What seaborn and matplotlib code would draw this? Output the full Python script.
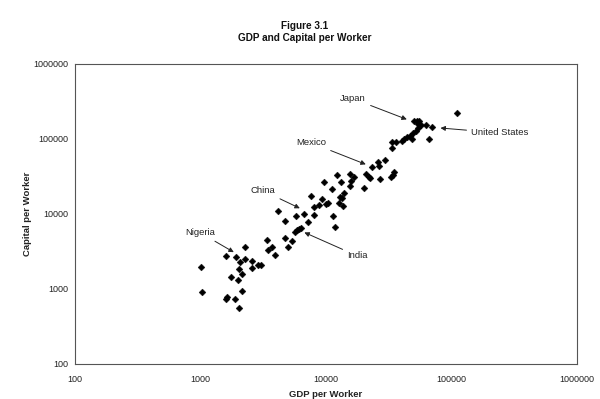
import matplotlib
matplotlib.use("Agg")
import matplotlib.pyplot as plt
import matplotlib.ticker as mticker
import pandas as pd
import seaborn as sns

# GDP per worker and capital per worker, one entry per country
gdp_per_worker = [
    1010, 1030, 1600, 1920, 2260, 2070, 2260, 2570, 2570, 2030,
    2870, 3030, 2140, 1750, 1990, 2140, 1600, 1630, 1880, 2030,
    3390, 3450, 3720, 3930, 4150, 4710, 4710, 5360, 4980, 5770,
    6680, 7190, 5660, 5880, 6100, 6320, 7590, 8020, 8020, 8790,
    9290, 10000, 10370, 9640, 11170, 11370, 11800, 12940, 13400, 12700,
    13650, 13900, 12240, 13180, 15520, 16710, 15810, 15520, 20090, 20840,
    22030, 23280, 25950, 26440, 26920, 29510, 32960, 34200, 34830, 33570,
    36140, 33570, 40360, 41880, 44190, 46700, 49320, 52120, 54080, 48420,
    50230, 53090, 55080, 54080, 57150, 62650, 69980, 66220, 110700, 22440,
]
capital_per_worker = [
    1970, 910, 2750, 2670, 3630, 2290, 2510, 2360, 1910, 1850,
    2090, 2090, 1590, 1450, 1320, 940, 740, 780, 740, 560,
    4500, 3310, 3630, 2840, 10960, 8070, 4790, 4370, 3630, 9400,
    10000, 7820, 5750, 6120, 6310, 6500, 17380, 12390, 9700, 13180,
    15850, 13600, 14030, 26730, 21540, 9400, 6710, 16870, 16330, 14030,
    12790, 19050, 33110, 26730, 34150, 31150, 27540, 23610, 22220, 34150,
    31150, 42340, 49400, 43650, 29290, 52500, 31150, 33110, 36310, 91200,
    91200, 75900, 94000, 100000, 106200, 109600, 120200, 127800, 140200, 100000,
    173800, 173800, 173800, 158500, 153800, 153800, 144500, 100000, 222300, 30200,
]

# Labelled countries: (name, point the arrow marks, label position, alignment)
label_names = ["Japan", "United States", "Mexico", "China", "Nigeria", "India"]
label_points = [(45000, 179000), (79400, 140000), (21200, 45000),
                (6320, 11660), (1880, 3020), (6560, 5750)]
label_text_pos = [(20800, 342000), (143000, 120000), (10000, 88500),
                  (3950, 20300), (1310, 5600), (14700, 2750)]
label_ha = ["right", "left", "right", "right", "right", "left"]

sns.set_theme(style="white")
plt.rcParams["font.family"] = ["Liberation Sans", "DejaVu Sans"]

df = pd.DataFrame({"gdp": gdp_per_worker, "capital": capital_per_worker})

fig = plt.figure(figsize=(6.0, 3.99), dpi=100)
ax = fig.add_axes([0.125, 0.088, 0.837, 0.752])

sns.scatterplot(data=df, x="gdp", y="capital", ax=ax, marker="D",
                s=12, color="black", edgecolor="black", linewidth=0.3,
                legend=False)

ax.set_xscale("log")
ax.set_yscale("log")
ax.set_xlim(100, 1000000)
ax.set_ylim(100, 1000000)

decades = [100, 1000, 10000, 100000, 1000000]
ax.xaxis.set_major_locator(mticker.FixedLocator(decades))
ax.yaxis.set_major_locator(mticker.FixedLocator(decades))
ax.xaxis.set_minor_locator(mticker.NullLocator())
ax.yaxis.set_minor_locator(mticker.NullLocator())
fmt = mticker.FuncFormatter(lambda v, _: f"{int(round(v))}")
ax.xaxis.set_major_formatter(fmt)
ax.yaxis.set_major_formatter(fmt)
ax.tick_params(axis="both", which="major", labelsize=6.5, colors="#222222",
               length=3, width=0.6, direction="out", pad=2)
ax.tick_params(axis="x", length=0, pad=8)

for side in ax.spines.values():
    side.set_color("#555555")
    side.set_linewidth(0.8)

ax.set_xlabel("GDP per Worker", fontsize=6.8, fontweight="bold",
              color="#222222", labelpad=4)
ax.set_ylabel("Capital per Worker", fontsize=6.8, fontweight="bold",
              color="#222222", labelpad=1)

for name, pt, txt, ha in zip(label_names, label_points, label_text_pos, label_ha):
    ax.annotate(name, xy=pt, xytext=txt, fontsize=6.8, color="#222222",
                ha=ha, va="center",
                arrowprops=dict(arrowstyle="-|>", color="#222222", lw=0.7,
                                mutation_scale=7, shrinkA=1, shrinkB=1))

fig.text(0.508, 0.935, "Figure 3.1", ha="center", va="center",
         fontsize=7.2, fontweight="bold", color="#111111")
fig.text(0.508, 0.905, "GDP and Capital per Worker", ha="center", va="center",
         fontsize=7.2, fontweight="bold", color="#111111")

fig.savefig("out.png", dpi=100)
